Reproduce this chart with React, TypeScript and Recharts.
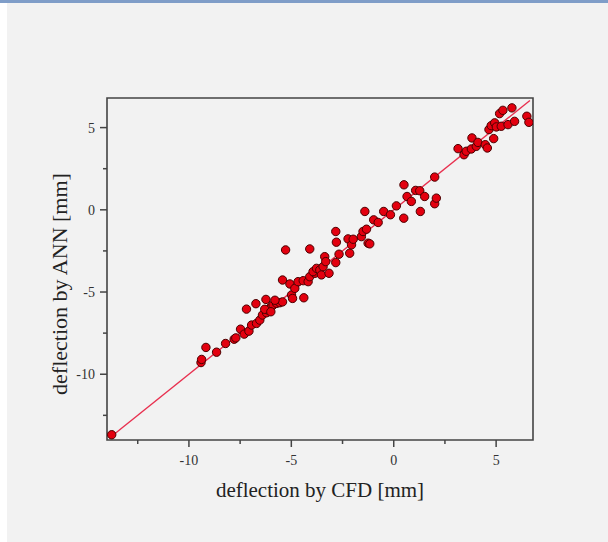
import { ScatterChart, Scatter, XAxis, YAxis, ReferenceArea, ReferenceLine, Label } from 'recharts'

// deflection by CFD [mm] (x) and by ANN [mm] (y)
const cfdValues = [
  -13.77, -9.41, -9.38, -9.17, -8.65, -8.21, -7.79, -7.71, -7.48, -7.30,
  -7.19, -7.07, -6.94, -6.73, -6.70, -6.54, -6.41, -6.24, -6.21, -6.13,
  -6.05, -5.97, -5.89, -5.72, -5.56, -5.43, -5.43, -5.28, -5.07, -4.99,
  -4.94, -4.83, -4.67, -4.39, -4.42, -4.18, -4.10, -4.10, -3.85, -3.94,
  -3.77, -3.61, -3.53, -3.45, -3.37, -3.32, -3.16, -2.83, -2.80, -2.83,
  -2.67, -2.23, -2.15, -2.06, -1.98, -1.58, -1.50, -1.41, -1.33, -1.25,
  -1.17, -0.98, -0.76, -0.49, -0.16, 0.13, 0.49, 0.50, 0.65, 0.86,
  1.07, 1.27, 1.30, 1.51, 2.00, 2.00, 2.08, 3.14, 3.43, 3.54,
  3.79, 3.82, 4.03, 4.11, 4.47, 4.57, 4.65, 4.76, 4.88, 4.93,
  5.01, 5.25, 5.17, 5.33, 5.58, 5.77, 5.90, 6.50, 6.60,
  -6.30, -6.00, -5.80
]
const annValues = [
  -13.68, -9.29, -9.10, -8.37, -8.66, -8.13, -7.87, -7.79, -7.26, -7.56,
  -6.04, -7.38, -7.01, -5.71, -6.91, -6.71, -6.40, -5.45, -6.26, -6.10,
  -5.99, -5.89, -5.79, -5.69, -5.65, -4.27, -5.60, -2.44, -4.51, -5.18,
  -5.39, -4.78, -4.37, -5.35, -4.31, -4.37, -4.07, -2.38, -3.86, -3.76,
  -3.56, -3.66, -3.96, -3.46, -2.85, -3.15, -3.86, -1.32, -1.97, -3.21,
  -2.70, -1.77, -2.64, -2.13, -1.79, -1.63, -1.32, -0.10, -1.18, -2.03,
  -2.07, -0.61, -0.77, -0.10, -0.30, 0.24, -0.51, 1.52, 0.81, 0.51,
  1.18, 1.16, -0.10, 0.81, 1.99, 0.37, 0.71, 3.72, 3.35, 3.56,
  3.70, 4.37, 3.86, 4.10, 3.96, 3.76, 4.88, 5.12, 4.33, 5.29,
  5.04, 5.08, 5.85, 6.05, 5.18, 6.20, 5.38, 5.69, 5.32,
  -6.05, -6.20, -5.50
]

// y = x reference line ends
const fitX = [-13.85, 6.65]
const fitY = [-13.85, 6.65]

const axisMin = -14
const axisMax = 6.8
const tickValues = [-12.5, -10, -7.5, -5, -2.5, 0, 2.5, 5]

const FONT = '"Liberation Serif", "Times New Roman", serif'
const INK = '#444'

const points = cfdValues.map((x, i) => ({ x, y: annValues[i] }))

const isMajor = (v: number) => v % 5 === 0

const XTick = (props: any) => {
  const { x, y, payload } = props
  const major = isMajor(payload.value)
  return (
    <g>
      <line x1={x} y1={y} x2={x} y2={y + (major ? 7 : 4)} stroke={INK} strokeWidth={1.5} />
      {major && (
        <text x={x} y={y + 25} textAnchor="middle" fontFamily={FONT} fontSize={14} fill="#333">
          {payload.value}
        </text>
      )}
    </g>
  )
}

const YTick = (props: any) => {
  const { x, y, payload } = props
  const major = isMajor(payload.value)
  return (
    <g>
      <line x1={x} y1={y} x2={x - (major ? 7 : 4)} y2={y} stroke={INK} strokeWidth={1.5} />
      {major && (
        <text x={x - 12} y={y + 5} textAnchor="end" fontFamily={FONT} fontSize={14} fill="#333">
          {payload.value}
        </text>
      )}
    </g>
  )
}

const Dot = (props: any) => (
  <circle cx={props.cx} cy={props.cy} r={4.2} fill="#e3000f" stroke="#4a0000" strokeWidth={1} />
)

export default function App() {
  return (
    <div style={{ position: 'relative', width: 608, height: 542, background: '#f2f2f2', overflow: 'hidden' }}>
      <style>{'body{margin:0}'}</style>
      <div style={{ position: 'absolute', left: 0, top: 0, width: 7, height: 542, background: '#ffffff' }} />
      <div style={{ position: 'absolute', left: 0, top: 0, width: 608, height: 3, background: '#7f9dc8' }} />
      <div style={{ position: 'absolute', left: 0, top: 0 }}>
        <ScatterChart width={608} height={542} margin={{ top: 98, right: 75, bottom: 42, left: 47 }}>
          <XAxis
            type="number"
            dataKey="x"
            domain={[axisMin, axisMax]}
            ticks={tickValues}
            allowDataOverflow
            axisLine={false}
            tickLine={false}
            tickSize={0}
            tickMargin={0}
            height={60}
            tick={<XTick />}
            interval={0}
          >
            <Label
              content={({ viewBox }: any) => (
                <text
                  x={viewBox.x + viewBox.width / 2}
                  y={viewBox.y + 57}
                  textAnchor="middle"
                  fontFamily={FONT}
                  fontSize={21}
                  fill="#222"
                >
                  deflection by CFD [mm]
                </text>
              )}
            />
          </XAxis>
          <YAxis
            type="number"
            dataKey="y"
            domain={[axisMin, axisMax]}
            ticks={tickValues}
            allowDataOverflow
            axisLine={false}
            tickLine={false}
            tickSize={0}
            tickMargin={0}
            width={60}
            tick={<YTick />}
            interval={0}
          >
            <Label
              content={({ viewBox }: any) => {
                const lx = viewBox.x + 20
                const ly = viewBox.y + viewBox.height / 2 + 15
                return (
                  <text
                    x={lx}
                    y={ly}
                    transform={`rotate(-90 ${lx} ${ly})`}
                    textAnchor="middle"
                    fontFamily={FONT}
                    fontSize={22}
                    fill="#222"
                  >
                    deflection by ANN [mm]
                  </text>
                )
              }}
            />
          </YAxis>
          <ReferenceArea
            x1={axisMin}
            x2={axisMax}
            y1={axisMin}
            y2={axisMax}
            fill="none"
            stroke={INK}
            strokeWidth={1.6}
            ifOverflow="visible"
          />
          <Scatter data={points} shape={<Dot />} isAnimationActive={false} />
          <ReferenceLine
            segment={[{ x: fitX[0], y: fitY[0] }, { x: fitX[1], y: fitY[1] }]}
            stroke="#e8304f"
            strokeWidth={1.4}
            ifOverflow="visible"
          />
        </ScatterChart>
      </div>
    </div>
  )
}
